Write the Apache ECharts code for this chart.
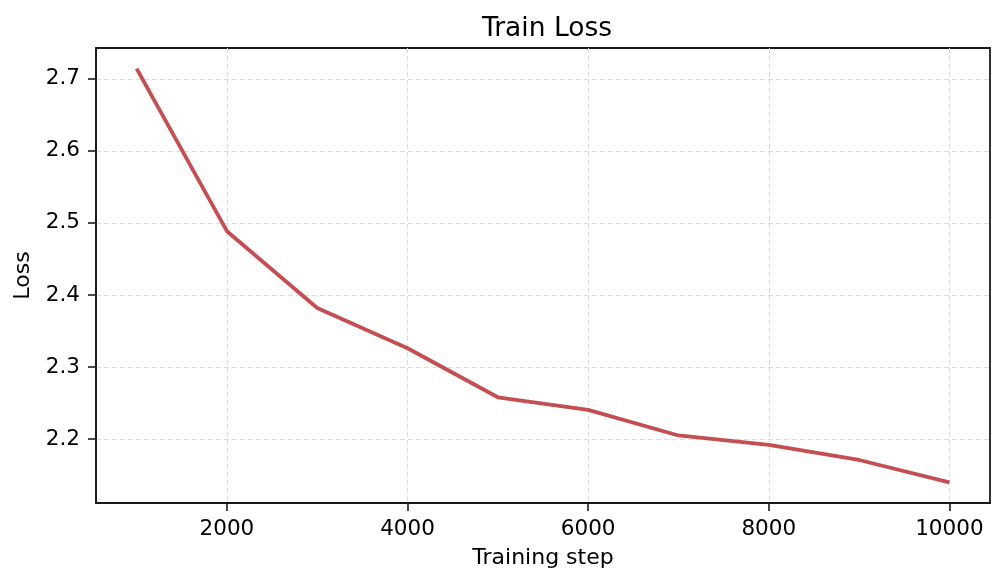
<!DOCTYPE html>
<html>
<head>
<meta charset="utf-8">
<script src="https://cdn.jsdelivr.net/npm/echarts@6/dist/echarts.min.js"></script>
<style>
  html, body { margin: 0; padding: 0; background: #fff; }
  #chart { width: 1005px; height: 584px; }
</style>
</head>
<body>
<div id="chart"></div>
<script>
// data
const steps = [1000, 2000, 3000, 4000, 5000, 6000, 7000, 8000, 9000, 10000];
const loss = [2.714, 2.4885, 2.382, 2.326, 2.258, 2.2405, 2.205, 2.192, 2.171, 2.140];
const xTicks = [2000, 4000, 6000, 8000, 10000];
const yTicks = [2.2, 2.3, 2.4, 2.5, 2.6, 2.7];

// matplotlib-like 5% margins
const xPad = (Math.max(...steps) - Math.min(...steps)) * 0.05;
const yPad = (Math.max(...loss) - Math.min(...loss)) * 0.05;

const FONT = 'DejaVu Sans';
const chart = echarts.init(document.getElementById('chart'), null, { renderer: 'canvas' });

const axisCommon = {
  axisLine: { show: true, onZero: false, lineStyle: { color: '#1a1a1a', width: 1.8 } },
  axisTick: { show: true, inside: false, length: 8, lineStyle: { color: '#1a1a1a', width: 1.6 } },
  splitLine: { show: true, lineStyle: { color: '#dddddd', width: 1, type: [5, 3] } },
  nameTextStyle: { fontFamily: FONT, fontSize: 22, color: '#000' }
};

chart.setOption({
  animation: false,
  title: {
    text: 'Train Loss',
    left: 542,
    textAlign: 'center',
    top: 11,
    textStyle: { fontFamily: FONT, fontSize: 26.5, fontWeight: 'normal', color: '#000' }
  },
  grid: {
    left: 96, right: 15, top: 48, bottom: 81, containLabel: false,
    show: true, borderColor: '#1a1a1a', borderWidth: 1.8, backgroundColor: 'transparent'
  },
  xAxis: Object.assign({}, axisCommon, {
    type: 'value',
    min: Math.min(...steps) - xPad,
    max: Math.max(...steps) + xPad,
    name: 'Training step',
    nameLocation: 'middle',
    nameGap: 44,
    axisTick: Object.assign({}, axisCommon.axisTick, { customValues: xTicks }),
    axisLabel: {
      customValues: xTicks,
      margin: 15,
      formatter: v => String(Math.round(v)),
      fontFamily: FONT, fontSize: 21.5, color: '#000'
    }
  }),
  yAxis: Object.assign({}, axisCommon, {
    type: 'value',
    min: Math.min(...loss) - yPad,
    max: Math.max(...loss) + yPad,
    name: 'Loss',
    nameLocation: 'middle',
    nameGap: 62,
    axisTick: Object.assign({}, axisCommon.axisTick, { customValues: yTicks }),
    axisLabel: {
      customValues: yTicks,
      margin: 16,
      formatter: v => v.toFixed(1),
      fontFamily: FONT, fontSize: 21.5, color: '#000'
    }
  }),
  series: [{
    type: 'line',
    data: steps.map((s, i) => [s, loss[i]]),
    showSymbol: false,
    symbol: 'none',
    lineStyle: { color: '#c44e52', width: 3.8, join: 'round', cap: 'butt' }
  }]
});
</script>
</body>
</html>
